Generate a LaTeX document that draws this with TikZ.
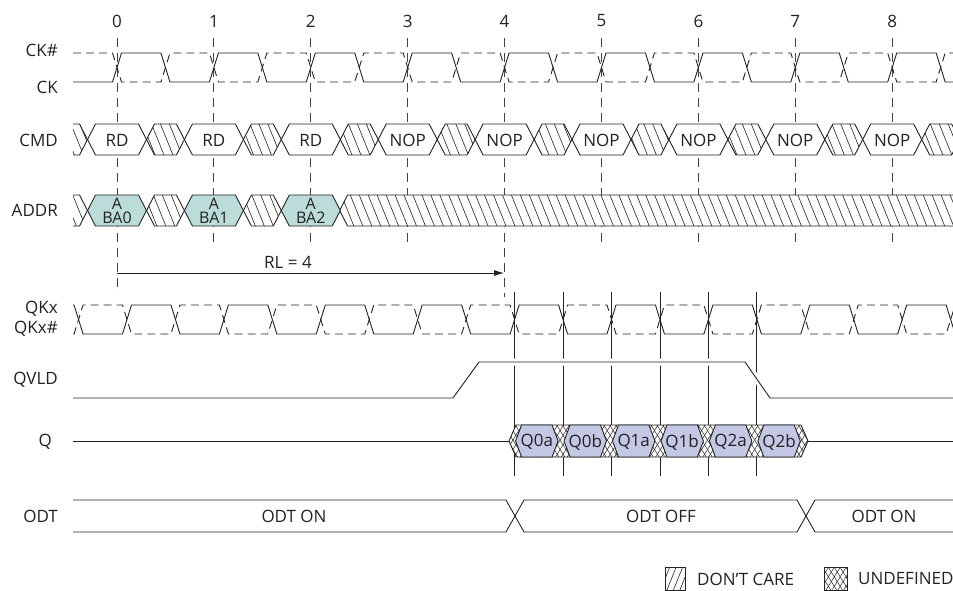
\documentclass[tikz,border=0pt]{standalone}
\usepackage{fontspec}
\setmainfont{Open Sans}
\usetikzlibrary{arrows.meta,patterns.meta}

\definecolor{txt}{HTML}{222222}
\definecolor{wire}{HTML}{222222}
\definecolor{addrfill}{HTML}{BCDCDA}
\definecolor{qfill}{HTML}{C4C8E4}

% hexagon of a bus: left point, right point, centre y, slope width, half height
\newcommand{\hexbus}[5]{(#1,#3) -- ({#1+#4},{#3-#5}) -- ({#2-#4},{#3-#5}) -- (#2,#3) -- ({#2-#4},{#3+#5}) -- ({#1+#4},{#3+#5}) -- cycle}

\tikzset{
	sig/.style={draw=wire, line width=0.9pt},
	sigdash/.style={sig, dash pattern=on 8pt off 5pt},
	guide/.style={draw=wire!85, line width=0.9pt, dash pattern=on 9pt off 6pt},
	lbl/.style={text=txt, inner sep=0pt, font=\fontsize{17}{14}\selectfont},
	small/.style={lbl, font=\fontsize{16}{14}\selectfont},
	dontcare/.style={preaction={fill=white}, pattern={Lines[angle=-68,distance=8.3pt,line width=0.6pt]}, pattern color=wire},
	legendcare/.style={preaction={fill=white}, pattern={Lines[angle=68,distance=6pt,line width=0.6pt]}, pattern color=wire},
	undefined/.style={preaction={fill=white}, pattern={Lines[angle=-58,distance=5pt,line width=0.5pt]}, pattern color=wire, postaction={pattern={Lines[angle=58,distance=5pt,line width=0.5pt]}, pattern color=wire}},
}

\begin{document}
\begin{tikzpicture}[x=1pt, y=-1pt]
	
	\useasboundingbox (0,0) rectangle (953,591);
	
	% clock numbers and guide lines
	\foreach \k in {0,...,8} {
		\pgfmathsetmacro{\tx}{117+96.9*\k}
		\node [lbl] (num\k) at (\tx,21) {\k};
		\ifnum\k=0 \def\ty{293}\else\ifnum\k=4 \def\ty{297}\else\def\ty{245}\fi\fi
		\draw [guide] (\tx,38) -- (\tx,\ty);
	}
	
	% signal names
	\node [lbl, anchor=east] (ckbar) at (58,50) {CK\#};
	\node [lbl, anchor=east] (ck) at (58,87) {CK};
	\node [lbl, anchor=east] (cmd) at (58,140) {CMD};
	\node [lbl, anchor=east] (addr) at (58,210) {ADDR};
	\node [lbl, anchor=east] (qkx) at (58,309) {QKx};
	\node [lbl, anchor=east] (qkxbar) at (58,329) {QKx\#};
	\node [lbl, anchor=east] (qvld) at (58,380) {QVLD};
	\node [lbl, anchor=east] (q) at (52,442) {Q};
	\node [lbl, anchor=east] (odt) at (58,516) {ODT};
	
	% latency
	\coordinate (rlfrom) at (117,273);
	\coordinate (rlto) at (504,273);
	\draw [sig, -{Latex[length=10pt,width=6pt]}] (rlfrom) -- (rlto);
	\node [lbl] (rl) at (288,262) {RL = 4};
	
	% strobe edges of the data
	\foreach \k in {0,...,5}
		\draw [sig] ({514.6+48.45*\k},292) -- ({514.6+48.45*\k},476);
	
	\begin{scope}
	\clip (73,0) rectangle (953,591);
	
	% CK and CK#
	\draw [sig] (60,82) \foreach \k in {0,...,8} { -- ({112.5+96.9*\k},82) -- ({121.5+96.9*\k},53) -- ({160.95+96.9*\k},53) -- ({169.95+96.9*\k},82) } -- (960,82);
	\draw [sigdash] (60,53) \foreach \k in {0,...,8} { -- ({112.5+96.9*\k},53) -- ({121.5+96.9*\k},82) -- ({160.95+96.9*\k},82) -- ({169.95+96.9*\k},53) } -- (960,53);
	
	% CMD
	\foreach \k in {-1,...,8}
		\draw [sig, dontcare] \hexbus{117+96.9*\k+29.5}{117+96.9*\k+67.4}{139.5}{8}{15.5};
	\foreach \k/\c in {0/RD,1/RD,2/RD,3/NOP,4/NOP,5/NOP,6/NOP,7/NOP,8/NOP} {
		\draw [sig, fill=white] \hexbus{117+96.9*\k-29.5}{117+96.9*\k+29.5}{139.5}{8}{15.5};
		\node [lbl] (cmd\k) at ({117+96.9*\k},140) {\c};
	}
	
	% ADDR
	\foreach \k in {-1,0,1}
		\draw [sig, dontcare] \hexbus{117+96.9*\k+29.5}{117+96.9*\k+67.4}{210.5}{8}{15.5};
	\draw [sig, dontcare] \hexbus{339.6}{1000}{210.5}{8}{15.5};
	\foreach \k in {0,1,2} {
		\draw [sig, fill=addrfill] \hexbus{117+96.9*\k-29.5}{117+96.9*\k+29.5}{210.5}{8}{15.5};
		\node [small, anchor=base] (bank\k) at ({117+96.9*\k},209) {A};
		\node [small, anchor=base] (addr\k) at ({117+96.9*\k},223.5) {BA\k};
	}
	
	% QKx and QKx#
	\draw [sig] (60,305) -- (74.05,305) -- (83.05,334) \foreach \k in {0,...,8} { -- ({122.5+96.9*\k},334) -- ({131.5+96.9*\k},305) -- ({170.95+96.9*\k},305) -- ({179.95+96.9*\k},334) } -- (960,334);
	\draw [sigdash] (60,334) -- (74.05,334) -- (83.05,305) \foreach \k in {0,...,8} { -- ({122.5+96.9*\k},305) -- ({131.5+96.9*\k},334) -- ({170.95+96.9*\k},334) -- ({179.95+96.9*\k},305) } -- (960,305);
	
	% QVLD
	\draw [sig, preaction={draw=white, line width=7pt}] (60,398) -- (453,398) -- (479,362) -- (745,362) -- (770,398) -- (960,398);
	
	% Q
	\draw [sig] (60,441) -- (509,441);
	\draw [sig] (808,441) -- (960,441);
	\draw [sig, undefined] \hexbus{509}{808}{441}{7}{16};
	\foreach \k/\d in {0/Q0a,1/Q0b,2/Q1a,3/Q1b,4/Q2a,5/Q2b} {
		\draw [sig, fill=qfill] \hexbus{512.6+48.45*\k+3}{512.6+48.45*\k+48.45-3}{441}{6}{16};
		\node [lbl] (q\k) at ({512.6+48.45*\k+24.2},442) {\d};
	}
	
	% ODT
	\draw [sig] (60,500) -- (506,500) -- (515,516) -- (506,532) -- (60,532);
	\draw [sig] \hexbus{515}{806}{516}{9}{16};
	\draw [sig] (960,500) -- (815,500) -- (806,516) -- (815,532) -- (960,532);
	\node [lbl] (odton) at (294,516) {ODT ON};
	\node [lbl] (odtoff) at (661,516) {ODT OFF};
	\node [lbl] (odtonb) at (884,516) {ODT ON};
	
	\end{scope}
	
	% legend
	\draw [sig, legendcare] (665,567) rectangle (685,590);
	\node [lbl, anchor=west] (care) at (697,579) {DON’T CARE};
	\draw [sig, undefined] (824,567) rectangle (847,590);
	\node [lbl, anchor=west] (undef) at (858,579) {UNDEFINED};
	
\end{tikzpicture}
\end{document}
